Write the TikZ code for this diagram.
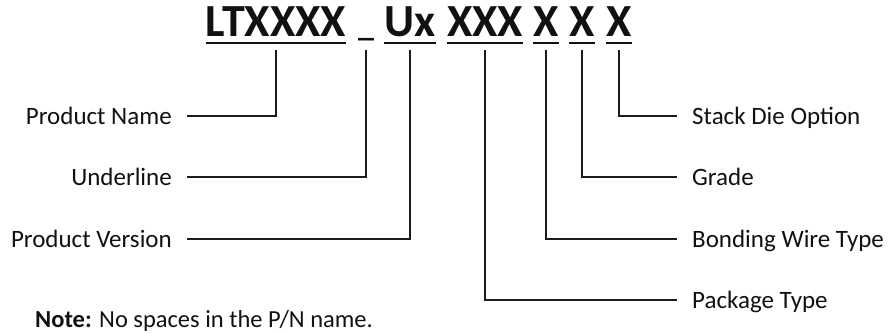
\documentclass[tikz,border=0pt]{standalone}
\usepackage{fontspec}
\setmainfont{Carlito}
\usetikzlibrary{positioning,calc}
\definecolor{pnink}{HTML}{111111}
\definecolor{leadink}{HTML}{1c1c1c}

\begin{document}
\begin{tikzpicture}[x=1pt, y=-1pt, font=\fontsize{25}{30}\selectfont,
  seg/.style={inner sep=0pt, anchor=base, text=pnink, font=\fontsize{46}{54}\selectfont\bfseries},
  lbl/.style={inner sep=0pt, text height=17pt, text depth=0pt, text=pnink},
  conn/.style={draw=leadink, line width=2.2pt},
  uline/.style={draw=pnink, line width=2.4pt}]
  \useasboundingbox (0,0) rectangle (893,334);
  % part number fields
  \node[seg] (name)  at (276,37) {LTXXXX};
  \node[seg, font=\fontsize{32}{38}\selectfont\bfseries] (under) at (366,37) {\_};
  \node[seg] (ver)   at (410,37) {Ux};
  \node[seg] (pkg)   at (485,37) {XXX};
  \node[seg] (bond)  at (546,37) {X};
  \node[seg] (grade) at (582,37) {X};
  \node[seg] (stack) at (619,37) {X};
  \foreach \s in {name,ver,pkg,bond,grade,stack}
    \draw[uline] ([yshift=-6pt]\s.base west) -- ([yshift=-6pt]\s.base east);
  % left labels
  \node[lbl, anchor=east] (lname)  at (172,116) {Product Name};
  \node[lbl, anchor=east] (lunder) at (172,177) {Underline};
  \node[lbl, anchor=east] (lver)   at (172,239) {Product Version};
  % right labels
  \node[lbl, anchor=west] (lstack) at (692,116) {Stack Die Option};
  \node[lbl, anchor=west] (lgrade) at (692,177) {Grade};
  \node[lbl, anchor=west] (lbond)  at (692,239) {Bonding Wire Type};
  \node[lbl, anchor=west] (lpkg)   at (692,300) {Package Type};
  % leaders
  \draw[conn] ([yshift=-13pt]name.base)  |- ([xshift=15pt]lname.east);
  \draw[conn] ([yshift=-13pt]under.base) |- ([xshift=15pt]lunder.east);
  \draw[conn] ([yshift=-13pt]ver.base)   |- ([xshift=15pt]lver.east);
  \draw[conn] ([yshift=-13pt]stack.base) |- ([xshift=-15pt]lstack.west);
  \draw[conn] ([yshift=-13pt]grade.base) |- ([xshift=-15pt]lgrade.west);
  \draw[conn] ([yshift=-13pt]bond.base)  |- ([xshift=-15pt]lbond.west);
  \draw[conn] ([yshift=-13pt]pkg.base)   |- ([xshift=-15pt]lpkg.west);
  % note
  \node[anchor=base west, inner sep=0pt, text=pnink, font=\fontsize{24.5}{29}\selectfont] (note) at (35,327)
    {\textbf{Note:} No spaces in the P/N name.};
\end{tikzpicture}
\end{document}
